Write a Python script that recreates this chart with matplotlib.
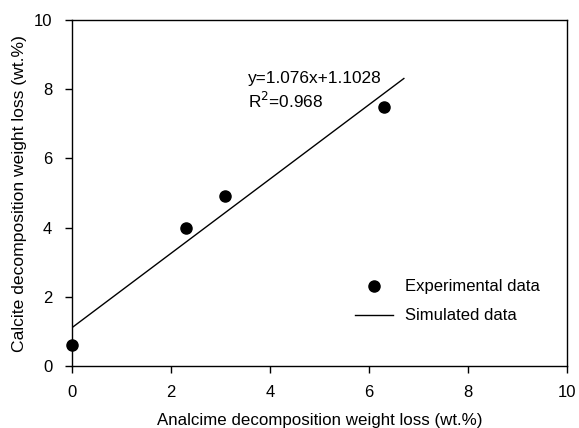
import numpy as np
import matplotlib.pyplot as plt

plt.rcParams['font.family'] = ['Liberation Sans', 'DejaVu Sans']

# Experimental points
analcime = [0.0, 2.3, 3.1, 6.3]
calcite = [0.6, 4.0, 4.9, 7.5]

# Fitted line
slope = 1.076
intercept = 1.1028
fit_x = [0.0, 6.7]

fig, ax = plt.subplots(figsize=(5.79, 4.28), dpi=100)
fig.subplots_adjust(left=0.124, right=0.98, top=0.953, bottom=0.145)

ax.plot(analcime, calcite, 'o', color='black', markersize=8,
        linestyle='none', label='Experimental data', clip_on=False, zorder=3)
fx = np.array(fit_x)
ax.plot(fx, slope * fx + intercept, color='black', linewidth=1.0,
        label='Simulated data')

ax.text(3.55, 8.18, 'y=1.076x+1.1028', fontsize=12.4, va='baseline')
ax.text(3.55, 7.46, 'R$^{2}$=0.968', fontsize=12.4, va='baseline')

ax.set_xlim(0, 10)
ax.set_ylim(0, 10)
ax.set_xticks(range(0, 11, 2))
ax.set_yticks(range(0, 11, 2))
ax.tick_params(direction='out', length=5, width=1, labelsize=12, pad=9)
for s in ax.spines.values():
    s.set_linewidth(1.0)

ax.set_xlabel('Analcime decomposition weight loss (wt.%)', fontsize=12.2, labelpad=9)
ax.set_ylabel('Calcite decomposition weight loss (wt.%)', fontsize=12.6, labelpad=5)

ax.legend(loc='upper left', bbox_to_anchor=(0.572, 0.25), frameon=False,
          fontsize=12, borderpad=0, borderaxespad=0,
          handlelength=2.28, handletextpad=0.72, labelspacing=0.84)

plt.savefig('out.png', dpi=100)
